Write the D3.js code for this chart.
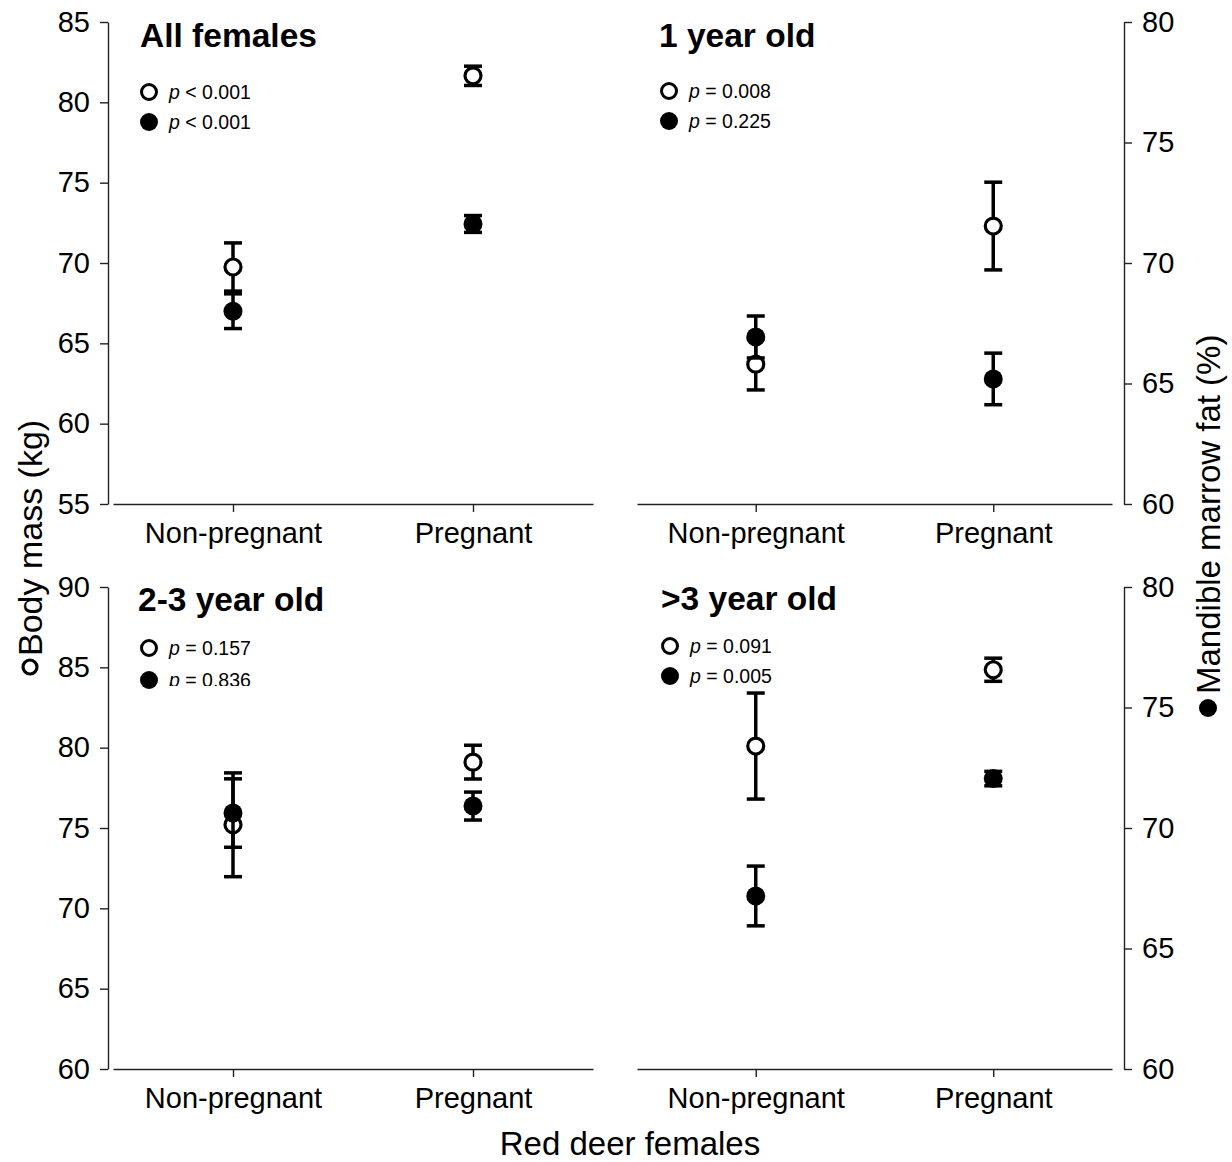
<!DOCTYPE html>
<html>
<head>
<meta charset="utf-8">
<script src="https://cdn.jsdelivr.net/npm/d3@7"></script>
<style>
  html, body { margin: 0; padding: 0; background: #fff; }
  svg { display: block; font-family: "Liberation Sans", Arial, sans-serif; }
  .axis path, .axis line { stroke: #222; stroke-width: 1.4; }
  .axis text { fill: #000; }
</style>
</head>
<body>
<svg id="chart" width="1232" height="1162"></svg>
<script>
// Red deer females: body mass (open circles, left axis) and
// mandible marrow fat (filled circles, right axis), mean ± SE.
const categories = ["Non-pregnant", "Pregnant"];
const panelTitles = ["All females", "1 year old", "2-3 year old", ">3 year old"];

// body mass (kg), per panel: [non-pregnant, pregnant]
const massMean = [[69.75, 81.65], [63.7, 72.3], [75.2, 79.1], [80.1, 84.85]];
const massSE   = [[1.5, 0.6], [1.6, 2.73], [3.23, 1.05], [3.3, 0.72]];

// mandible marrow fat (%), per panel: [non-pregnant, pregnant]
const fatMean = [[68.0, 71.62], [66.93, 65.19], [70.62, 70.91], [67.18, 72.05]];
const fatSE   = [[0.72, 0.35], [0.87, 1.07], [1.42, 0.58], [1.24, 0.3]];

// p-values of the pregnancy effect
const massP = ["< 0.001", "= 0.008", "= 0.157", "= 0.091"];
const fatP  = ["< 0.001", "= 0.225", "= 0.836", "= 0.005"];

// axis domains
const massDomainTop = [55, 85];
const massDomainBottom = [60, 90];
const fatDomain = [60, 80];
const massTicksTop = [55, 60, 65, 70, 75, 80, 85];
const massTicksBottom = [60, 65, 70, 75, 80, 85, 90];
const fatTicks = [60, 65, 70, 75, 80];

const svg = d3.select("#chart");

// layout of the 2 x 2 grid
const rows = [
  { top: 22, bottom: 504, massDomain: massDomainTop, massTicks: massTicksTop },
  { top: 587, bottom: 1069, massDomain: massDomainBottom, massTicks: massTicksBottom }
];
const cols = [
  { x0: 113, x1: 593, axisX: 108, side: "left" },
  { x0: 637, x1: 1112, axisX: 1124, side: "right" }
];
const panelLayout = [
  { title: [140, 47], legend: [149, 92, 30, 169] },
  { title: [659, 47], legend: [669, 91, 30, 689] },
  { title: [138, 611], legend: [149, 648, 32, 169], clipFat: 686 },
  { title: [661, 610], legend: [670, 646, 30, 690] }
];

const defs = svg.append("defs");

panelTitles.forEach((title, i) => {
  const row = rows[Math.floor(i / 2)];
  const col = cols[i % 2];
  const lay = panelLayout[i];
  const g = svg.append("g");

  const x = d3.scalePoint().domain(categories).range([col.x0, col.x1]).padding(0.5);
  const yMass = d3.scaleLinear().domain(row.massDomain).range([row.bottom, row.top]);
  const yFat = d3.scaleLinear().domain(fatDomain).range([row.bottom, row.top]);

  // x axis
  g.append("g").attr("class", "axis")
    .attr("transform", `translate(0,${row.bottom})`)
    .call(d3.axisBottom(x).tickSizeInner(8).tickSizeOuter(0).tickPadding(10))
    .call(a => a.selectAll("text").attr("font-size", 29));

  // y axis: body mass on the left column, marrow fat on the right column
  if (col.side === "left") {
    g.append("g").attr("class", "axis")
      .attr("transform", `translate(${col.axisX},0)`)
      .call(d3.axisLeft(yMass).tickValues(row.massTicks).tickFormat(d3.format("d"))
        .tickSizeInner(8).tickSizeOuter(0).tickPadding(10))
      .call(a => a.selectAll("text").attr("font-size", 29));
  } else {
    g.append("g").attr("class", "axis")
      .attr("transform", `translate(${col.axisX},0)`)
      .call(d3.axisRight(yFat).tickValues(fatTicks).tickFormat(d3.format("d"))
        .tickSizeInner(8).tickSizeOuter(0).tickPadding(10))
      .call(a => a.selectAll("text").attr("font-size", 29));
  }

  // panel title
  g.append("text")
    .attr("x", lay.title[0]).attr("y", lay.title[1])
    .attr("font-size", 33.5).attr("font-weight", "bold")
    .text(title);

  // series records
  const mass = categories.map((c, k) => ({ c, m: massMean[i][k], se: massSE[i][k], y: yMass }));
  const fat = categories.map((c, k) => ({ c, m: fatMean[i][k], se: fatSE[i][k], y: yFat }));

  const drawBars = (data) => {
    const eb = g.append("g").attr("stroke", "#000").attr("stroke-width", 3.5);
    data.forEach(d => {
      const cx = x(d.c), yt = d.y(d.m + d.se), yb = d.y(d.m - d.se);
      eb.append("line").attr("x1", cx).attr("x2", cx).attr("y1", yt).attr("y2", yb);
      eb.append("line").attr("x1", cx - 9).attr("x2", cx + 9).attr("y1", yt).attr("y2", yt);
      eb.append("line").attr("x1", cx - 9).attr("x2", cx + 9).attr("y1", yb).attr("y2", yb);
    });
  };

  // body mass: open circles
  drawBars(mass);
  g.append("g").selectAll("circle").data(mass).join("circle")
    .attr("cx", d => x(d.c)).attr("cy", d => d.y(d.m)).attr("r", 8)
    .attr("fill", "#fff").attr("stroke", "#000").attr("stroke-width", 3.2);

  // marrow fat: filled circles
  drawBars(fat);
  g.append("g").selectAll("circle").data(fat).join("circle")
    .attr("cx", d => x(d.c)).attr("cy", d => d.y(d.m)).attr("r", 9.5)
    .attr("fill", "#000");

  // legend with p-values
  const [lx, ly, gap, tx] = lay.legend;
  g.append("circle").attr("cx", lx).attr("cy", ly).attr("r", 7.5)
    .attr("fill", "#fff").attr("stroke", "#000").attr("stroke-width", 3);
  g.append("circle").attr("cx", lx).attr("cy", ly + gap).attr("r", 9)
    .attr("fill", "#000");

  const pText = (y, value, clipY) => {
    const t = g.append("text").attr("x", tx).attr("y", y + 6.5).attr("font-size", 19.5);
    t.append("tspan").attr("font-style", "italic").text("p");
    t.append("tspan").text(" " + value);
    if (clipY !== undefined) {
      const id = "clip-p-" + i;
      defs.append("clipPath").attr("id", id)
        .append("rect").attr("x", tx - 5).attr("y", y - 20).attr("width", 140).attr("height", clipY - (y - 20));
      t.attr("clip-path", `url(#${id})`);
    }
  };
  pText(ly, massP[i]);
  pText(ly + gap, fatP[i], lay.clipFat);
});

// shared axis titles
const leftTitle = svg.append("g").attr("transform", "translate(30,667) rotate(-90)");
leftTitle.append("circle").attr("cx", 0).attr("cy", 0).attr("r", 7)
  .attr("fill", "#fff").attr("stroke", "#000").attr("stroke-width", 3.2);
leftTitle.append("text").attr("x", 11).attr("y", 0).attr("dy", "0.36em")
  .attr("font-size", 34).text("Body mass (kg)");

const rightTitle = svg.append("g").attr("transform", "translate(1208,708) rotate(-90)");
rightTitle.append("circle").attr("cx", 0).attr("cy", 0).attr("r", 9).attr("fill", "#000");
rightTitle.append("text").attr("x", 14).attr("y", 0).attr("dy", "0.36em")
  .attr("font-size", 33).text("Mandible marrow fat (%)");

svg.append("text").attr("x", 630).attr("y", 1155).attr("text-anchor", "middle")
  .attr("font-size", 33).text("Red deer females");
</script>
</body>
</html>
